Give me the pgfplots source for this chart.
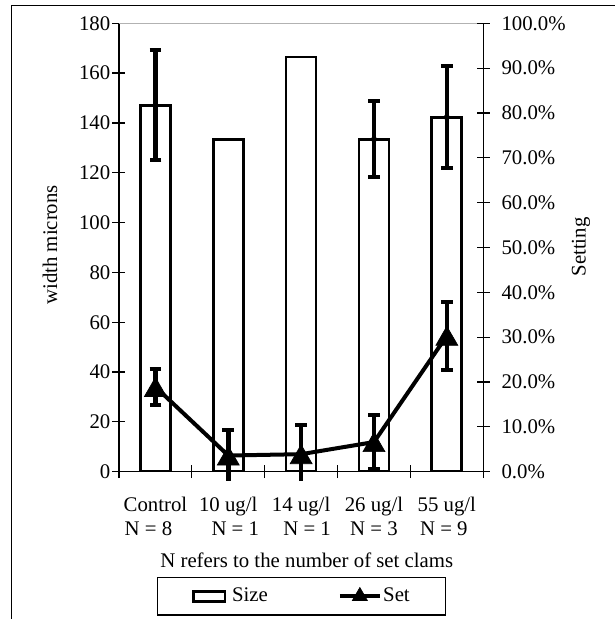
\documentclass[border=0pt]{standalone}
\usepackage{fontspec}
\setmainfont{Liberation Serif}
\usepackage{pgfplots}
\pgfplotsset{compat=1.18}
\pgfplotsset{setlegend/.style={legend image code/.code={\draw[mark repeat=2, mark phase=2, ##1, mark size=6.5pt, mark options={solid, line width=0.5pt}] plot coordinates {(0pt,0pt) (15pt,0pt) (30pt,0pt)};}}}
\begin{document}
\fontsize{15.6pt}{18pt}\selectfont
\begin{tikzpicture}
\useasboundingbox (0,0) rectangle (461.25pt,464.25pt);
\draw[black, line width=0.9pt] (8.8pt,0pt) -- (8.8pt,460.1pt) -- (461.25pt,460.1pt);
\begin{axis}[
  at={(89.25pt,110.5pt)}, anchor=south west,
  scale only axis, width=273.2pt, height=336.3pt,
  xmin=-0.5, xmax=4.5, ymin=0, ymax=180,
  axis x line*=bottom, axis y line*=left,
  axis line style={black, line width=0.9pt},
  tick align=center, major tick length=9.75pt,
  tick style={black, line width=0.9pt},
  xtick={-0.5,0.5,1.5,2.5,3.5,4.5},
  x tick label as interval,
  xticklabels={{Control\\N = 8\hspace*{10.5pt}}, {10 ug/l\\\hspace*{10.5pt}N = 1}, {14 ug/l\\\hspace*{9pt}N = 1}, {26 ug/l\\N = 3}, {55 ug/l\\N = 9\hspace*{4.5pt}}},
  xticklabel style={align=center, anchor=north, yshift=-8.5pt},
  ytick={0,20,...,180},
  yticklabel style={anchor=east, xshift=3.75pt},
  /pgf/number format/assume math mode=true,
  xlabel={N refers to the number of set clams},
  xlabel style={at={(axis description cs:0.5155,-0.2148)}, anchor=base},
  ylabel={width microns},
  ylabel style={at={(axis description cs:-0.1894,0.5056)}, anchor=center},
]
\addplot[ybar, bar width=22.5pt, draw=black, fill=white, line width=2pt]
  coordinates {(0,147.1) (1,133.4) (2,166.5) (3,133.4) (4,142.3)};
\addplot[black, only marks, mark=none,
  error bars/.cd, y dir=both, y explicit,
  error bar style={line width=3.4pt},
  error mark options={rotate=90, line width=3pt, mark size=4.4pt}]
  coordinates {(0,147.1) +- (0,22.1) (3,133.4) +- (0,15.3) (4,142.3) +- (0,20.4)};
\draw[gray!60, line width=0.8pt] (rel axis cs:0,1) -- (rel axis cs:1,1);
\end{axis}
\begin{axis}[
  at={(89.25pt,110.5pt)}, anchor=south west,
  scale only axis, width=273.2pt, height=336.3pt,
  xmin=-0.5, xmax=4.5, ymin=0, ymax=100,
  axis x line=none, axis y line*=right,
  axis line style={black, line width=0.9pt},
  tick align=center, major tick length=10pt,
  tick style={black, line width=0.9pt},
  ytick={0,10,...,100},
  yticklabel={\pgfmathprintnumber[fixed,fixed zerofill,precision=1]{\tick}\%},
  yticklabel style={anchor=west, xshift=3.3pt},
  /pgf/number format/assume math mode=true,
  ylabel={Setting},
  ylabel style={at={(axis description cs:1.2682,0.5011)}, anchor=center},
  clip=false,
  legend columns=2,
  legend style={at={(axis description cs:0.5014,-0.2777)}, anchor=center,
    draw=black, line width=0.8pt, inner xsep=26pt, inner ysep=5.8pt,
    /tikz/every even column/.append style={column sep=51.5pt},
    nodes={inner xsep=1pt, inner ysep=2pt}},
]
\addlegendimage{legend image code/.code={\draw[black, line width=2pt, fill=white] (0pt,-3.75pt) rectangle (23.5pt,3.75pt); \path (27.5pt,0pt);}}
\addlegendentry{Size}
\addplot[black, only marks, mark=none, forget plot,
  error bars/.cd, y dir=plus, y explicit,
  error bar style={line width=3.4pt},
  error mark options={rotate=90, line width=3pt, mark size=4.4pt}]
  coordinates {(0,18.9) +- (0,4.0) (1,3.6) +- (0,5.7) (2,3.9) +- (0,6.4) (3,6.6) +- (0,6.0) (4,30.3) +- (0,7.6)};
\addplot[black, only marks, mark=none, forget plot,
  error bars/.cd, y dir=minus, y explicit,
  error bar style={line width=3.4pt},
  error mark options={rotate=90, line width=3pt, mark size=4.4pt}]
  coordinates {(0,18.9) +- (0,4.0) (3,6.6) +- (0,6.0) (4,30.3) +- (0,7.6)};
\addplot[black, only marks, mark=none, forget plot,
  error bars/.cd, y dir=minus, y explicit,
  error bar style={line width=3.4pt},
  error mark=none]
  coordinates {(1,3.6) +- (0,5.6) (2,3.9) +- (0,5.9)};
\addplot[black, line width=3pt, mark=triangle*, mark size=9.5pt,
  mark options={solid, line width=0.5pt, yshift=-2.4pt}, setlegend]
  coordinates {(0,18.9) (1,3.6) (2,3.9) (3,6.6) (4,30.3)};
\addlegendentry{Set}
\end{axis}
\end{tikzpicture}
\end{document}
